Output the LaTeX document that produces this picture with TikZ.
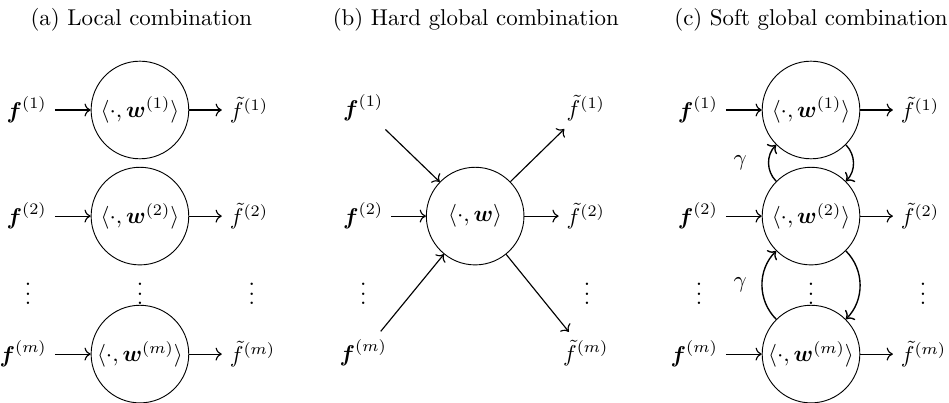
\documentclass[tikz,border=0pt]{standalone}
\usepackage{amsmath, amssymb}
\usepackage{tikz}
\usetikzlibrary{arrows.meta, positioning}

\tikzset{
  combnode/.style={draw, circle, minimum size=1.5cm, inner sep=0pt},
  feedarrow/.style={->, line width=0.5pt},
  coupling/.style={->, semithick},
}
\newcommand{\wvec}{\boldsymbol{w}}
\newcommand{\fvec}{\boldsymbol{f}}

\begin{document}
\begin{tikzpicture}
  \useasboundingbox (0,0) rectangle (14.58,-6.19);

  % titles
  \node (ta) at (2.17,-0.31) {(a) Local combination};
  \node (tb) at (7.31,-0.31) {(b) Hard global combination};
  \node (tc) at (12.46,-0.31) {(c) Soft global combination};

  % (a) and (c): one neuron per row
  \foreach \p/\x in {a/2.15, c/12.46}{
    \foreach \k/\y in {1/-1.69, 2/-3.32, m/-5.44}{
      \node[combnode] (\p\k) at (\x,\y) {$\langle\cdot,\wvec^{(\k)}\rangle$};
      \node[left=0.55cm of \p\k] (\p f\k) {$\fvec^{(\k)}$};
      \node[right=0.5cm of \p\k] (\p g\k) {$\tilde{f}^{(\k)}$};
      \draw[feedarrow] (\p f\k) -- (\p\k);
      \draw[feedarrow] (\p\k) -- (\p g\k);
    }
    \node (\p dl) at (\x-1.72,-4.41) {$\vdots$};
    \node (\p dc) at (\x,-4.41) {$\vdots$};
    \node (\p dr) at (\x+1.72,-4.41) {$\vdots$};
  }

  % (b) one shared neuron
  \node[combnode] (b0) at (7.30,-3.32) {$\langle\cdot,\wvec\rangle$};
  \node (bf1) at (5.58,-1.66) {$\fvec^{(1)}$};
  \node (bf2) at (5.58,-3.32) {$\fvec^{(2)}$};
  \node (bfd) at (5.58,-4.41) {$\vdots$};
  \node (bfm) at (5.58,-5.42) {$\fvec^{(m)}$};
  \node (bg1) at (9.00,-1.66) {$\tilde{f}^{(1)}$};
  \node (bg2) at (9.00,-3.32) {$\tilde{f}^{(2)}$};
  \node (bgd) at (9.02,-4.41) {$\vdots$};
  \node (bgm) at (9.00,-5.42) {$\tilde{f}^{(m)}$};
  \foreach \k in {1,2,m}{
    \draw[feedarrow] (bf\k) -- (b0);
    \draw[feedarrow] (b0) -- (bg\k);
  }

  % (c) coupling between neighbouring neurons
  \draw[coupling] (c2.135) to[bend left=45] (c1.225);
  \draw[coupling] (c1.-45) to[bend left=45] (c2.45);
  \draw[coupling] (cm.135) to[bend left=45] (c2.225);
  \draw[coupling] (c2.-45) to[bend left=45] (cm.45);
  \node (gam1) at (11.37,-2.50) {$\gamma$};
  \node (gam2) at (11.37,-4.38) {$\gamma$};
\end{tikzpicture}
\end{document}
